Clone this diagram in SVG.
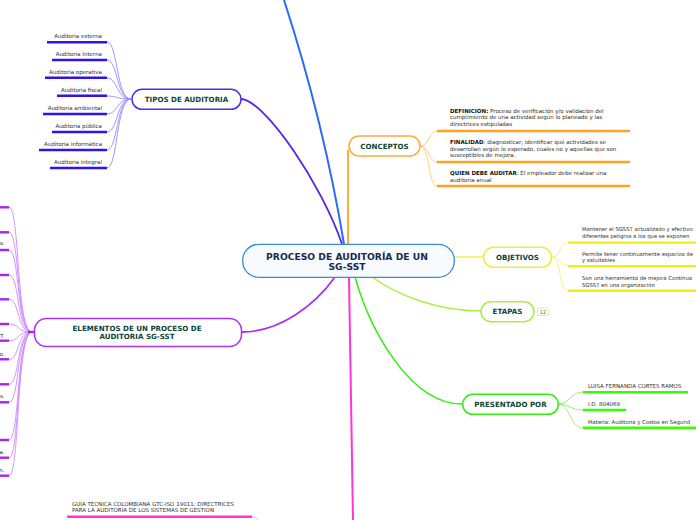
<svg xmlns="http://www.w3.org/2000/svg" width="696" height="520" viewBox="0 0 696 520">
<style>
.node{fill:#ffffff;stroke-width:1.5}
.nt{font-family:"DejaVu Sans",Verdana,sans-serif;font-weight:bold;font-size:7.1px;fill:#0c4536;text-anchor:middle}
.ct{font-family:"DejaVu Sans",Verdana,sans-serif;font-weight:bold;font-size:9.2px;fill:#1b2a4c;text-anchor:middle}
.st{font-family:"DejaVu Sans",Verdana,sans-serif;font-size:5.5px;fill:#2e2e2e}
.ob{font-size:5.3px}
.sb{font-weight:bold;fill:#111111}
.end{text-anchor:end}
.c{fill:none}
.u{fill:none;stroke-width:2.4}
.sub{fill:none;stroke-width:0.9}
</style>
<rect width="696" height="520" fill="#ffffff"/>
<g id="connectors">
<path class="c" d="M344,244 C330,160 310,80 284,0" stroke="#2a6cf6" stroke-width="2"/>
<path class="c" d="M342,244 C322,185 265,100 241,99" stroke="#5522ee" stroke-width="1.8"/>
<path class="c" d="M348,244 L348,150" stroke="#ffa322" stroke-width="1.8"/>
<path class="c" d="M455,257 L484,257" stroke="#f0ee30" stroke-width="1.3"/>
<path class="c" d="M372,277 C400,297 440,311 481,311" stroke="#aaee44" stroke-width="1.5"/>
<path class="c" d="M355,277 C370,330 410,404 462,404" stroke="#33ee11" stroke-width="1.5"/>
<path class="c" d="M335,277 C315,305 280,332 242,332" stroke="#aa33ee" stroke-width="1.8"/>
<path class="c" d="M349,277 C350,360 352,440 353,520" stroke="#ff33dd" stroke-width="2"/>
</g>
<g id="tipos-children">
<g stroke="#9988ff">
<path class="sub" d="M107,42 C118,42 116,99 131,99"/>
<path class="sub" d="M107,60 C118,60 116,99 131,99"/>
<path class="sub" d="M107,78 C118,78 116,99 131,99"/>
<path class="sub" d="M107,96 C118,96 116,99 131,99"/>
<path class="sub" d="M107,114 C118,114 116,99 131,99"/>
<path class="sub" d="M107,132 C118,132 116,99 131,99"/>
<path class="sub" d="M107,150 C118,150 116,99 131,99"/>
<path class="sub" d="M107,168 C118,168 116,99 131,99"/>
</g>
<g stroke="#3311ee">
<path class="u" d="M47,42.3 H107"/>
<path class="u" d="M52,60 H107"/>
<path class="u" d="M45,77.8 H107"/>
<path class="u" d="M57,95.8 H107"/>
<path class="u" d="M43,114 H107"/>
<path class="u" d="M52,132 H107"/>
<path class="u" d="M39,150 H107"/>
<path class="u" d="M50,168 H107"/>
</g>
<g class="st end">
<text x="102" y="38">Auditoria externa</text>
<text x="102" y="56">Auditoria Interna</text>
<text x="102" y="73.7">Auditoria operativa</text>
<text x="102" y="91.7">Auditoria fiscal</text>
<text x="102" y="109.7">Auditoria ambiental</text>
<text x="102" y="127.7">Auditoria pública</text>
<text x="102" y="145.7">Auditoria informática</text>
<text x="102" y="163.7">Auditoria integral</text>
</g>
</g>
<g id="tipos">
<rect class="node" x="132" y="89.3" width="109" height="20" rx="10" stroke="#4433ee"/>
<text class="nt" x="186.5" y="101.9">TIPOS DE AUDITORIA</text>
</g>
<g id="conceptos-children">
<g stroke="#ffc870">
<path class="sub" d="M420,146 C430,146 428,131 437,131"/>
<path class="sub" d="M420,146 C430,146 428,162 437,162"/>
<path class="sub" d="M420,146 C430,146 428,186 437,186"/>
</g>
<g stroke="#ffa322">
<path class="u" d="M437,131 H630"/>
<path class="u" d="M437,162 H630"/>
<path class="u" d="M437,186 H630"/>
</g>
<g class="st">
<text x="450" y="113"><tspan class="sb">DEFINICIÓN:</tspan> Proceso de verificación y/o validación del</text>
<text x="450" y="119.4">cumplimiento de una actividad según lo planeado y las</text>
<text x="450" y="125.8">directrices estipuladas</text>
<text x="450" y="144.3"><tspan class="sb">FINALIDAD</tspan>: diagnosticar; identificar qué actividades se</text>
<text x="450" y="150.8">desarrollan según lo esperado, cuales no y aquellas que son</text>
<text x="450" y="157.2">susceptibles de mejora.</text>
<text x="450" y="174.7"><tspan class="sb">QUIEN DEBE AUDITAR</tspan>: El empleador debe realizar una</text>
<text x="450" y="181.9">auditoria anual</text>
</g>
</g>
<g id="conceptos">
<rect class="node" x="349" y="136" width="71" height="20" rx="10" stroke="#ffa833"/>
<text class="nt" x="384.5" y="148.5">CONCEPTOS</text>
</g>
<g id="objetivos-children">
<g stroke="#f5f27a">
<path class="sub" d="M552,257 C562,257 558,243 568,243"/>
<path class="sub" d="M552,257 C562,257 558,266 568,266"/>
<path class="sub" d="M552,257 C562,257 558,291 568,291"/>
</g>
<g stroke="#f0ee10">
<path class="u" d="M568,242.6 H696"/>
<path class="u" d="M568,266.3 H696"/>
<path class="u" d="M568,290.8 H696"/>
</g>
<g class="st ob">
<text x="582" y="231">Mantener el SGSST actualizado y efectivo</text>
<text x="582" y="237.6">diferentes peligros a los que se exponen</text>
<text x="582" y="255.9">Permite tener continuamente espacios de</text>
<text x="582" y="262.2">y saludables</text>
<text x="582" y="279.7">Son una herramienta de mejora Continua</text>
<text x="582" y="286.9">SGSST en una organización</text>
</g>
</g>
<g id="objetivos">
<rect class="node" x="483.5" y="247.3" width="68" height="20" rx="10" stroke="#eeee33"/>
<text class="nt" x="517.5" y="259.8">OBJETIVOS</text>
</g>
<g id="etapas">
<rect class="node" x="481" y="301.7" width="53" height="20" rx="10" stroke="#aaee44"/>
<text class="nt" x="507.5" y="314.2">ETAPAS</text>
<rect x="537.5" y="308" width="11" height="7.5" rx="1.5" fill="#ffffff" stroke="#bbee77" stroke-width="0.7"/>
<text x="543" y="313.9" font-family="DejaVu Sans,Verdana,sans-serif" font-size="5px" fill="#666666" text-anchor="middle">12</text>
</g>
<g id="presentado-children">
<g stroke="#88ee66">
<path class="sub" d="M558,404 C570,404 570,392 583,392"/>
<path class="sub" d="M558,404 C570,404 570,410 583,410"/>
<path class="sub" d="M558,404 C570,404 570,428 583,428"/>
</g>
<g stroke="#33ff00">
<path class="u" d="M583,392.3 H688"/>
<path class="u" d="M583,410 H626"/>
<path class="u" d="M583,427.7 H696"/>
</g>
<g class="st">
<text x="588" y="387.8">LUISA FERNANDA CORTES RAMOS</text>
<text x="588" y="405.5">I.D. 804069</text>
<text x="588" y="423.5" font-size="5.3px">Materia: Auditoria y Costos en Segurid</text>
</g>
</g>
<g id="presentado">
<rect class="node" x="462.7" y="394.3" width="95.6" height="20" rx="10" stroke="#33ee11"/>
<text class="nt" x="510.5" y="406.8">PRESENTADO POR</text>
</g>
<g id="elementos-children">
<g stroke="#cc88ff">
<path class="sub" d="M9,207.3 C20,207.3 16,332 32,332"/>
<path class="sub" d="M9,232.3 C20,232.3 16,332 32,332"/>
<path class="sub" d="M9,250 C20,250 16,332 32,332"/>
<path class="sub" d="M9,275 C20,275 16,332 32,332"/>
<path class="sub" d="M9,299.3 C20,299.3 16,332 32,332"/>
<path class="sub" d="M9,324 C20,324 16,332 32,332"/>
<path class="sub" d="M9,340.7 C20,340.7 16,332 32,332"/>
<path class="sub" d="M9,359.3 C20,359.3 16,332 32,332"/>
<path class="sub" d="M9,384.3 C20,384.3 16,332 32,332"/>
<path class="sub" d="M9,402.3 C20,402.3 16,332 32,332"/>
<path class="sub" d="M9,440 C20,440 16,332 32,332"/>
<path class="sub" d="M9,457.7 C20,457.7 16,332 32,332"/>
<path class="sub" d="M9,475.7 C20,475.7 16,332 32,332"/>
</g>
<g stroke="#aa22ee">
<path class="u" d="M0,207.3 H9"/>
<path class="u" d="M0,232.3 H9"/>
<path class="u" d="M0,250 H9"/>
<path class="u" d="M0,275 H9"/>
<path class="u" d="M0,299.3 H9"/>
<path class="u" d="M0,324 H9"/>
<path class="u" d="M0,340.7 H9"/>
<path class="u" d="M0,359.3 H9"/>
<path class="u" d="M0,384.3 H9"/>
<path class="u" d="M0,402.3 H9"/>
<path class="u" d="M0,440 H9"/>
<path class="u" d="M0,457.7 H9"/>
<path class="u" d="M0,475.7 H9"/>
<path d="M28,332 H35" stroke-width="2.4"/>
</g>
<g class="st end">
<text x="4.5" y="245.2">s.</text>
<text x="4.5" y="337.6">T.</text>
<text x="4.5" y="356.2">o.</text>
<text x="4.5" y="397.9">s.</text>
<text x="4.5" y="454.2">a.</text>
<text x="4.5" y="472.2">n.</text>
</g>
</g>
<g id="elementos">
<rect class="node" x="34.5" y="318.5" width="207" height="28" rx="12" stroke="#aa33ee"/>
<text class="nt" x="137" y="330.6">ELEMENTOS DE UN PROCESO DE</text>
<text class="nt" x="137" y="339.3">AUDITORIA SG-SST</text>
</g>
<g id="guia">
<path class="sub" d="M252,517 C256,517 258,519 259,521" stroke="#ffaaee"/>
<path class="u" d="M67,516.7 H252" stroke="#ff33dd"/>
<text class="st" x="72" y="506" font-size="5.8px">GUÍA TÉCNICA COLOMBIANA GTC-ISO 19011: DIRECTRICES</text>
<text class="st" x="72" y="511.8" font-size="5.8px">PARA LA AUDITORÍA DE LOS SISTEMAS DE GESTIÓN</text>
</g>
<g id="center">
<rect x="242.7" y="244.3" width="211.6" height="33" rx="16" fill="#f7fbff" stroke="#3a8dd0" stroke-width="1.3"/>
<text class="ct" x="347" y="259.6">PROCESO DE AUDITORÍA DE UN</text>
<text class="ct" x="347" y="270.1">SG-SST</text>
</g>
</svg>
